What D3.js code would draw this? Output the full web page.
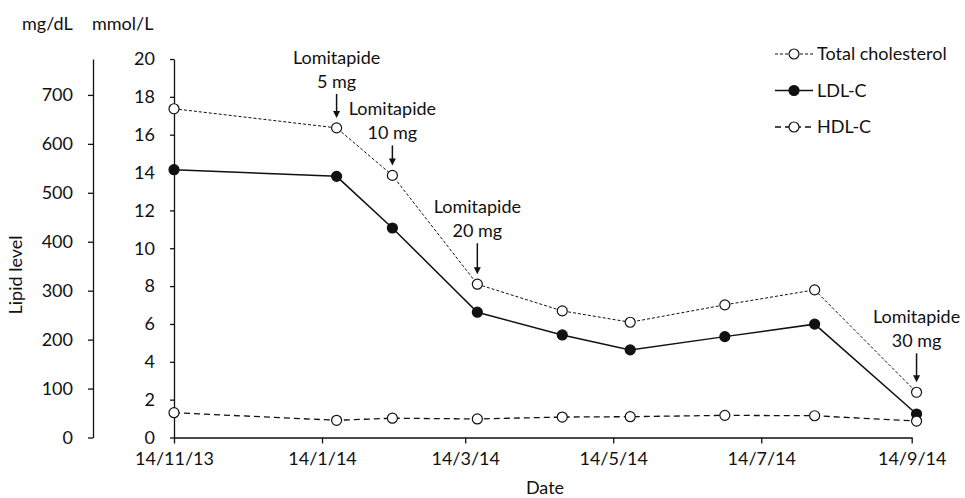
<!DOCTYPE html>
<html>
<head>
<meta charset="utf-8">
<script src="https://cdn.jsdelivr.net/npm/d3@7"></script>
<style>
  body { margin: 0; background: #fff; }
  text { font-family: Lato, "Open Sans", sans-serif; fill: #111; }
</style>
</head>
<body>
<script>
// measurement dates and values (mmol/L)
var dates = ["2013-11-14", "2014-01-20", "2014-02-12", "2014-03-19", "2014-04-23",
             "2014-05-21", "2014-06-29", "2014-08-05", "2014-09-16"];
var totalChol = [17.37, 16.36, 13.85, 8.1, 6.69, 6.09, 7.01, 7.8, 2.39];
var ldl = [14.15, 13.8, 11.07, 6.62, 5.42, 4.63, 5.33, 5.99, 1.24];
var hdl = [1.31, 0.91, 1.02, 0.98, 1.08, 1.1, 1.17, 1.15, 0.87];

var xTicks = ["2013-11-14", "2014-01-14", "2014-03-14", "2014-05-14", "2014-07-14", "2014-09-14"];
var mmolTicks = [0, 2, 4, 6, 8, 10, 12, 14, 16, 18, 20];
var mgTicks = [0, 100, 200, 300, 400, 500, 600, 700];

// lomitapide dose changes: index of the measurement they point at
var doseLabels = ["5 mg", "10 mg", "20 mg", "30 mg"];
var doseIndex = [1, 2, 3, 8];
var arrowLen = [24, 20, 31, 29];

var parse = d3.timeParse("%Y-%m-%d");
var MG_PER_MMOL = 38.67;

var svg = d3.select("body").append("svg")
    .attr("width", 965)
    .attr("height", 498);

var x = d3.scaleTime()
    .domain([parse(xTicks[0]), parse(xTicks[xTicks.length - 1])])
    .range([174, 911.7]);

var y = d3.scaleLinear().domain([0, 20]).range([437.5, 59]);
var yMg = d3.scaleLinear().domain([0, 20 * MG_PER_MMOL]).range([437.5, 59]);

var fs = "18px";

// x axis
svg.append("g")
    .attr("transform", "translate(0,437.5)")
    .call(d3.axisBottom(x)
        .tickValues(xTicks.map(parse))
        .tickFormat(function (d) { return d.getDate() + "/" + (d.getMonth() + 1) + "/" + d3.timeFormat("%y")(d); })
        .tickSize(6)
        .tickSizeOuter(0)
        .tickPadding(9));

// mmol/L axis
svg.append("g")
    .attr("transform", "translate(174,0)")
    .call(d3.axisLeft(y)
        .tickValues(mmolTicks)
        .tickSize(4)
        .tickSizeOuter(0)
        .tickPadding(15));

// mg/dL axis
svg.append("g")
    .attr("transform", "translate(93,0)")
    .call(d3.axisLeft(yMg)
        .tickValues(mgTicks)
        .tickSize(5)
        .tickSizeOuter(0)
        .tickPadding(15));

svg.selectAll(".domain, .tick line")
    .style("stroke", "#111")
    .style("stroke-width", 1.3);
svg.selectAll(".tick text")
    .style("font-size", fs)
    .attr("font-family", "Lato, sans-serif")
    .attr("fill", "#111");

// series
var series = [
    { name: "Total cholesterol", values: totalChol, dash: "3,2", width: 1, filled: false },
    { name: "LDL-C", values: ldl, dash: null, width: 1.5, filled: true },
    { name: "HDL-C", values: hdl, dash: "6,4", width: 1.3, filled: false }
];

var line = d3.line()
    .x(function (d, i) { return x(parse(dates[i])); })
    .y(function (d) { return y(d); });

series.forEach(function (s) {
    svg.append("path")
        .attr("d", line(s.values))
        .attr("fill", "none")
        .style("stroke", "#111")
        .style("stroke-width", s.width)
        .style("stroke-dasharray", s.dash);

    svg.selectAll(null)
        .data(s.values)
        .enter()
        .append("circle")
        .attr("cx", function (d, i) { return x(parse(dates[i])); })
        .attr("cy", function (d) { return y(d); })
        .attr("r", 5)
        .style("fill", s.filled ? "#111" : "#fff")
        .style("stroke", "#111")
        .style("stroke-width", 1.2);
});

// dose annotations
for (var i = 0; i < doseIndex.length; i++) {
    var k = doseIndex[i];
    var ax = x(parse(dates[k]));
    var tip = y(totalChol[k]) - 10;
    var arrowTop = tip - arrowLen[i];

    svg.append("line")
        .attr("x1", ax).attr("y1", arrowTop)
        .attr("x2", ax).attr("y2", tip - 5)
        .style("stroke", "#111")
        .style("stroke-width", 1.5);

    svg.append("path")
        .attr("d", "M" + (ax - 3.5) + "," + (tip - 7) + "L" + (ax + 3.5) + "," + (tip - 7) + "L" + ax + "," + tip + "Z")
        .style("fill", "#111");

    svg.append("text")
        .attr("x", ax)
        .attr("y", arrowTop - 30)
        .attr("text-anchor", "middle")
        .style("font-size", fs)
        .text("Lomitapide");

    svg.append("text")
        .attr("x", ax)
        .attr("y", arrowTop - 6)
        .attr("text-anchor", "middle")
        .style("font-size", fs)
        .text(doseLabels[i]);
}

// legend
series.forEach(function (s, i) {
    var ly = 54 + i * 36.5;
    svg.append("line")
        .attr("x1", 775).attr("y1", ly)
        .attr("x2", 813).attr("y2", ly)
        .style("stroke", "#111")
        .style("stroke-width", s.width)
        .style("stroke-dasharray", s.dash);
    svg.append("circle")
        .attr("cx", 794).attr("cy", ly)
        .attr("r", 5)
        .style("fill", s.filled ? "#111" : "#fff")
        .style("stroke", "#111")
        .style("stroke-width", 1.2);
    svg.append("text")
        .attr("x", 817)
        .attr("y", ly + 6)
        .style("font-size", fs)
        .text(s.name);
});

// axis titles
svg.append("text").attr("x", 22).attr("y", 30).style("font-size", fs).text("mg/dL");
svg.append("text").attr("x", 92).attr("y", 30).style("font-size", fs).text("mmol/L");
svg.append("text")
    .attr("transform", "translate(22,275) rotate(-90)")
    .attr("text-anchor", "middle")
    .style("font-size", fs)
    .text("Lipid level");
svg.append("text")
    .attr("x", 545).attr("y", 494)
    .attr("text-anchor", "middle")
    .style("font-size", fs)
    .text("Date");
</script>
</body>
</html>
